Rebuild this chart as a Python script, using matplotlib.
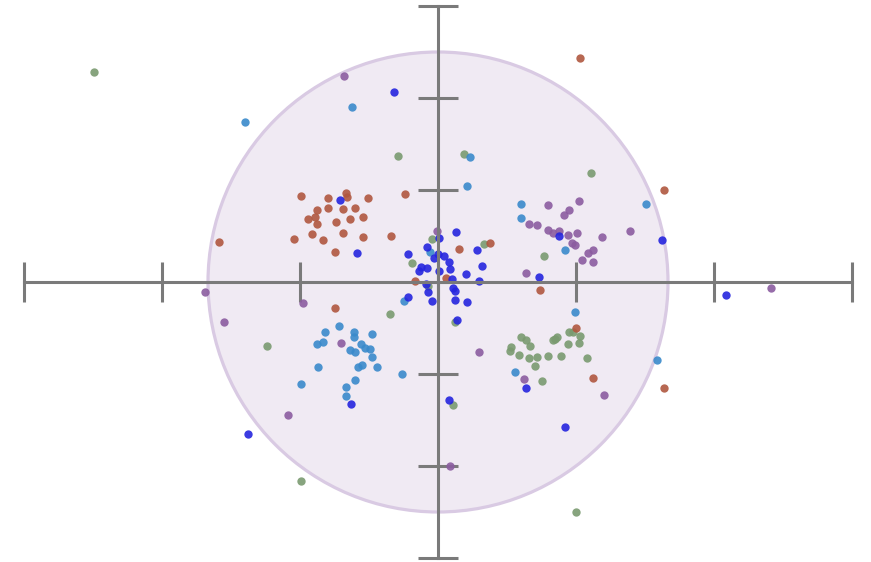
import matplotlib
matplotlib.use("Agg")
import matplotlib.pyplot as plt
from matplotlib.patches import Ellipse

# --- data ---
red_x = [-0.99, -0.80, -0.67, -0.66, -0.51, -0.24, -0.88, -0.80, -0.69, -0.60, -0.94, -0.89,
         -0.88, -0.74, -0.64, -0.54, -0.91, -0.83, -0.69, -0.54, -1.04, -0.34, -0.75, -1.59,
         0.15, 0.38, 0.06, -0.17, -0.75, 0.74, 1.03, 1.64, 1.00, 1.12, 1.64]
red_y = [0.93, 0.91, 0.97, 0.92, 0.91, 0.96, 0.78, 0.80, 0.79, 0.80, 0.68, 0.71,
         0.63, 0.65, 0.68, 0.71, 0.52, 0.46, 0.53, 0.49, 0.47, 0.50, 0.33, 0.43,
         0.36, 0.42, 0.04, 0.01, -0.28, -0.09, 2.43, 1.00, -0.50, -1.04, -1.15]

blue_x = [-0.32, -0.71, -0.59, 0.01, 0.13, 0.28, -0.08, -0.22, 0.00, 0.04, -0.03, 0.08,
          -0.12, -0.08, -0.14, 0.01, 0.09, 0.32, 0.20, 0.30, 0.10, -0.09, 0.11, 0.12,
          -0.07, -0.22, -0.04, 0.12, 0.21, 0.14, 0.88, 1.62, 0.73, 2.09, -0.63, -1.38,
          0.64, 0.08, 0.92]
blue_y = [2.07, 0.89, 0.32, 0.48, 0.54, 0.35, 0.38, 0.30, 0.30, 0.28, 0.26, 0.22,
          0.16, 0.15, 0.12, 0.12, 0.14, 0.17, 0.09, 0.01, 0.03, -0.02, -0.07, -0.10,
          -0.11, -0.16, -0.21, -0.20, -0.22, -0.41, 0.50, 0.46, 0.05, -0.14, -1.33, -1.65,
          -1.15, -1.28, -1.58]

lblue_x = [-0.62, -1.40, 0.23, 0.21, 1.51, 0.60, 0.60, 0.92, -0.06, -0.25, 0.99, 0.56, 1.59,
           -0.72, -0.82, -0.61, -0.48, -0.61, -0.88, -0.83, -0.64, -0.60, -0.56, -0.53, -0.49,
           -0.48, -0.58, -0.55, -0.44, -0.87, -0.26, -0.60, -0.99, -0.67, -0.67]
lblue_y = [1.90, 1.74, 1.36, 1.04, 0.85, 0.85, 0.70, 0.35, 0.33, -0.21, -0.33, -0.98, -0.85,
           -0.48, -0.54, -0.54, -0.57, -0.60, -0.67, -0.65, -0.74, -0.76, -0.67, -0.72, -0.73,
           -0.82, -0.92, -0.90, -0.92, -0.92, -1.00, -1.07, -1.11, -1.14, -1.24]

green_x = [-2.49, -0.29, 0.19, 1.11, -0.04, 0.33, -0.19, -0.07, -0.35, 0.12, 0.77, -1.24,
           -0.99, 0.11, 1.00,
           0.95, 0.98, 1.03, 0.86, 0.83, 0.85, 0.94, 1.02, 0.60, 0.64, 0.67, 0.53, 0.52,
           0.59, 0.66, 0.72, 0.80, 0.89, 1.08, 0.70, 0.75]
green_y = [2.28, 1.37, 1.39, 1.18, 0.47, 0.41, 0.21, -0.04, -0.35, -0.43, 0.28, -0.70,
           -2.16, -1.34, -2.50,
           -0.54, -0.54, -0.59, -0.60, -0.63, -0.62, -0.67, -0.66, -0.60, -0.63, -0.70, -0.71,
           -0.75, -0.79, -0.83, -0.82, -0.80, -0.80, -0.83, -0.91, -1.08]

purple_x = [-0.68, -0.01, 0.80, 1.02, 0.95, 0.91, 0.66, 0.72, 0.80, 0.83, 0.88, 0.94, 1.01,
            0.97, 0.99, 1.19, 1.39, 1.09, 1.12, 1.04, 1.12, 0.64, 2.41, -1.69, -0.98, -1.55,
            -0.70, -1.09, 0.30, 0.62, 1.20, 0.09]
purple_y = [2.24, 0.55, 0.84, 0.88, 0.78, 0.73, 0.63, 0.62, 0.57, 0.53, 0.55, 0.51, 0.53,
            0.42, 0.40, 0.49, 0.55, 0.32, 0.35, 0.24, 0.22, 0.10, -0.07, -0.11, -0.23, -0.43,
            -0.66, -1.45, -0.76, -1.05, -1.23, -2.00]

TICKS = [-3, -2, -1, 0, 1, 2, 3]

fig = plt.figure(figsize=(8.71, 5.62), dpi=100)
ax = fig.add_axes([0, 0, 1, 1])
ax.set_xlim(-438 / 138, 433 / 138)
ax.set_ylim(-280 / 92, 282 / 92)

# lavender circle (round in pixels, not in data units)
ax.add_patch(Ellipse((0, 0), 10 / 3, 5.0, facecolor="#F0EAF3",
                     edgecolor="#D9CAE3", linewidth=2.3, zorder=1))

# axes crossing at the origin, drawn over the dots
for side in ("top", "right"):
    ax.spines[side].set_visible(False)
ax.spines["left"].set_position("zero")
ax.spines["bottom"].set_position("zero")
for side in ("left", "bottom"):
    ax.spines[side].set_color("#7A7A7A")
    ax.spines[side].set_linewidth(2.2)
    ax.spines[side].set_bounds(-3, 3)
    ax.spines[side].set_zorder(4)
ax.set_xticks(TICKS)
ax.set_yticks(TICKS)
ax.tick_params(direction="inout", length=29, width=2.2, color="#7A7A7A",
               labelbottom=False, labelleft=False)
ax.set_axisbelow(False)
ax.patch.set_visible(False)

kw = dict(s=36, alpha=0.9, linewidths=0, zorder=3)
ax.scatter(green_x, green_y, color="#7A9A70", **kw)
ax.scatter(purple_x, purple_y, color="#8B5CA0", **kw)
ax.scatter(lblue_x, lblue_y, color="#3A8ACB", **kw)
ax.scatter(red_x, red_y, color="#B0573F", **kw)
ax.scatter(blue_x, blue_y, color="#2525DE", **kw)

fig.savefig("out.png", dpi=100)
